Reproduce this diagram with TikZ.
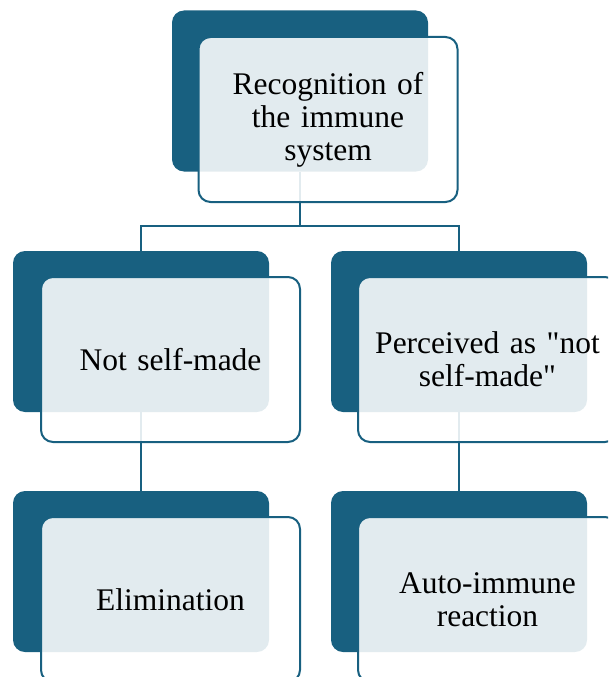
\documentclass[tikz,border=0pt]{standalone}
\usepackage{fontspec}
\setmainfont{Liberation Serif}
% plain family without TeX ligature mapping, so " stays a straight quote
\newfontfamily\cardfont{Liberation Serif}
\definecolor{deepblue}{RGB}{24,96,128}
\begin{document}
\begin{tikzpicture}[x=1pt,y=-1pt,
  backcard/.style={draw=none, fill=deepblue, rounded corners=12pt,
    minimum width=256pt, minimum height=161pt, inner sep=0pt},
  frontcard/.style={draw=deepblue, line width=2pt, fill=white, fill opacity=0.88,
    text opacity=1, rounded corners=12pt, minimum width=259pt, minimum height=165pt,
    inner sep=0pt, text width=240pt, align=center,
    font=\cardfont\fontsize{31.5}{33}\selectfont},
  link/.style={draw=deepblue, line width=2pt}]
\useasboundingbox (0,0) rectangle (608,677);
\clip (0,0) rectangle (608,677);

% dark back cards
\node[backcard] (root) at (300,91) {};
\node[backcard] (left) at (141,331.5) {};
\node[backcard] (right) at (459,331.5) {};
\node[backcard] (leftb) at (141,571.5) {};
\node[backcard] (rightb) at (459,571.5) {};

% tree connectors, running under the front cards
\coordinate (hub) at (300,226);
\draw[link] (root.south) -- (hub) -| (left.north);
\draw[link] (hub) -| (right.north);
\draw[link] (left.south) -- (leftb.north);
\draw[link] (right.south) -- (rightb.north);

% translucent front cards with the labels
\node[frontcard] (rootf) at (328,119.5) {Recognition of\\the immune\\system};
\node[frontcard] (leftf) at (170.5,359.5) {Not self-made};
\node[frontcard] (rightf) at (487.5,359.5) {Perceived as "not\\self-made"};
\node[frontcard] (leftbf) at (170.5,599.5) {Elimination};
\node[frontcard] (rightbf) at (487.5,599.5) {Auto-immune\\reaction};
\end{tikzpicture}
\end{document}
